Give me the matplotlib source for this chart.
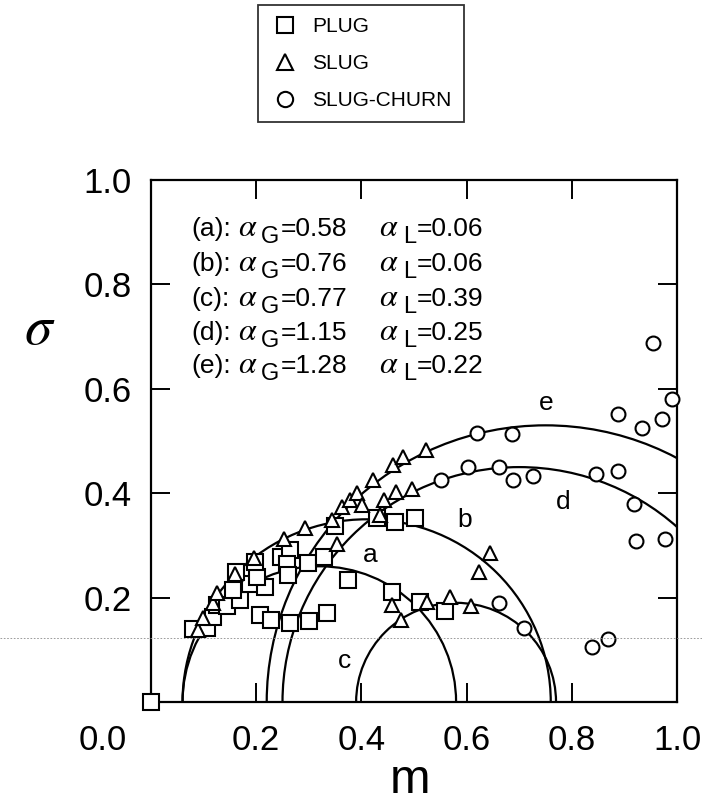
import numpy as np
import matplotlib
matplotlib.use("Agg")
import matplotlib.pyplot as plt
from matplotlib.patches import Arc
from matplotlib.lines import Line2D

plt.rcParams['font.family'] = ['Liberation Sans', 'DejaVu Sans']
plt.rcParams['mathtext.fontset'] = 'stix'

# ---------------- data ----------------
curve_names = ['a', 'b', 'c', 'd', 'e']
alpha_G = [0.58, 0.76, 0.77, 1.15, 1.28]
alpha_L = [0.06, 0.06, 0.39, 0.25, 0.22]

plug_m = [0.0, 0.080, 0.106, 0.118, 0.125, 0.144, 0.169, 0.156, 0.188, 0.217,
          0.201, 0.162, 0.198, 0.248, 0.264, 0.258, 0.261, 0.299, 0.328, 0.350,
          0.374, 0.207, 0.229, 0.264, 0.301, 0.334, 0.429, 0.464, 0.502, 0.458,
          0.511, 0.559]
plug_s = [0.0, 0.139, 0.141, 0.162, 0.186, 0.183, 0.195, 0.215, 0.227, 0.221,
          0.240, 0.250, 0.269, 0.278, 0.291, 0.264, 0.243, 0.267, 0.278, 0.337,
          0.233, 0.167, 0.158, 0.151, 0.156, 0.171, 0.352, 0.345, 0.352, 0.211,
          0.192, 0.175]

slug_m = [0.090, 0.099, 0.118, 0.125, 0.160, 0.195, 0.252, 0.293, 0.345, 0.363,
          0.354, 0.378, 0.391, 0.401, 0.423, 0.435, 0.443, 0.461, 0.466, 0.480,
          0.497, 0.523, 0.644, 0.624, 0.458, 0.475, 0.524, 0.568, 0.608]
slug_s = [0.138, 0.160, 0.190, 0.208, 0.245, 0.275, 0.312, 0.333, 0.349, 0.373,
          0.303, 0.387, 0.400, 0.377, 0.425, 0.358, 0.387, 0.454, 0.403, 0.470,
          0.409, 0.483, 0.286, 0.250, 0.186, 0.157, 0.192, 0.202, 0.183]

churn_m = [0.955, 0.990, 0.887, 0.971, 0.934, 0.727, 0.846, 0.888, 0.918, 0.922,
           0.978, 0.710, 0.838, 0.869, 0.620, 0.687, 0.603, 0.662, 0.689, 0.551,
           0.662]
churn_s = [0.688, 0.581, 0.551, 0.542, 0.524, 0.432, 0.437, 0.443, 0.379, 0.309,
           0.312, 0.141, 0.105, 0.120, 0.515, 0.513, 0.451, 0.451, 0.425, 0.425,
           0.190]

x_ticks = [0.2, 0.4, 0.6, 0.8, 1.0]
y_ticks = [0.2, 0.4, 0.6, 0.8, 1.0]
tick_labels = ['0.2', '0.4', '0.6', '0.8', '1.0']

# ---------------- figure ----------------
W, H = 702, 805
fig = plt.figure(figsize=(W / 100, H / 100), dpi=100)

def fx(px):
    return px / W

def fy(py):
    return 1 - py / H

ax = fig.add_axes([fx(151), fy(702), 526 / W, 522 / H])
ax.set_xlim(0, 1)
ax.set_ylim(0, 1)

for sp in ax.spines.values():
    sp.set_linewidth(1.6)

ax.set_xticks(x_ticks)
ax.set_yticks(y_ticks)
ax.set_xticklabels(tick_labels)
ax.set_yticklabels(tick_labels)
ax.tick_params(direction='in', length=14, width=1.4, labelsize=25,
               top=True, right=True, pad=14)
ax.tick_params(axis='x', pad=16)

# semicircles
for name, g, l in zip(curve_names, alpha_G, alpha_L):
    d = g - l
    arc = Arc(((g + l) / 2, 0), d, d, theta1=0, theta2=180,
              color='black', lw=1.6, zorder=2)
    ax.add_patch(arc)

mk = dict(mfc='white', mec='black', mew=1.5, ls='none', zorder=3, clip_on=False)
h1, = ax.plot(plug_m, plug_s, marker='s', ms=11, **mk)
h2, = ax.plot(slug_m, slug_s, marker='^', ms=10, **mk)
h3, = ax.plot(churn_m, churn_s, marker='o', ms=10, **mk)

# curve labels
label_pos = {'a': (0.416, 0.282), 'b': (0.597, 0.349), 'c': (0.367, 0.079),
             'd': (0.783, 0.384), 'e': (0.752, 0.573)}
for name in curve_names:
    ax.text(*label_pos[name], name, fontsize=19, ha='center', va='center')

# parameter text block
row_y = [228, 263, 298, 332, 365]
fs = 19
for name, g, l, yc in zip(curve_names, alpha_G, alpha_L, row_y):
    base = yc + 8
    fig.text(fx(191), fy(base), f'({name}):', fontsize=fs, va='baseline')
    fig.text(fx(238), fy(base), r'$\alpha$', fontsize=23, va='baseline')
    fig.text(fx(261), fy(base + 7), 'G', fontsize=17, va='baseline')
    fig.text(fx(281), fy(base), f'={g:.2f}', fontsize=fs, va='baseline')
    fig.text(fx(379), fy(base), r'$\alpha$', fontsize=23, va='baseline')
    fig.text(fx(403), fy(base + 7), 'L', fontsize=17, va='baseline')
    fig.text(fx(417), fy(base), f'={l:.2f}', fontsize=fs, va='baseline')

# origin label and axis labels
fig.text(fx(103), fy(740), '0.0', fontsize=25, ha='center', va='center')
fig.text(fx(410), fy(780), 'm', fontsize=35, ha='center', va='center')
fig.text(fx(40), fy(330), r'$\sigma$', fontsize=40, ha='center', va='center')

# legend
leg = fig.legend([h1, h2, h3], ['PLUG', 'SLUG', 'SLUG-CHURN'],
                 loc='upper left', bbox_to_anchor=(fx(258), fy(5)),
                 bbox_transform=fig.transFigure, fontsize=15,
                 frameon=True, fancybox=False, edgecolor='black',
                 handlelength=1.4, handletextpad=0.6, labelspacing=0.85,
                 borderpad=0.6, borderaxespad=0, markerscale=1.1)
leg.get_frame().set_linewidth(1.3)

# faint scan line across the page
fig.add_artist(Line2D([0, 1], [fy(638), fy(638)], transform=fig.transFigure,
                      color='0.55', lw=0.6, ls=(0, (2, 2))))

fig.savefig('out.png', dpi=100)
